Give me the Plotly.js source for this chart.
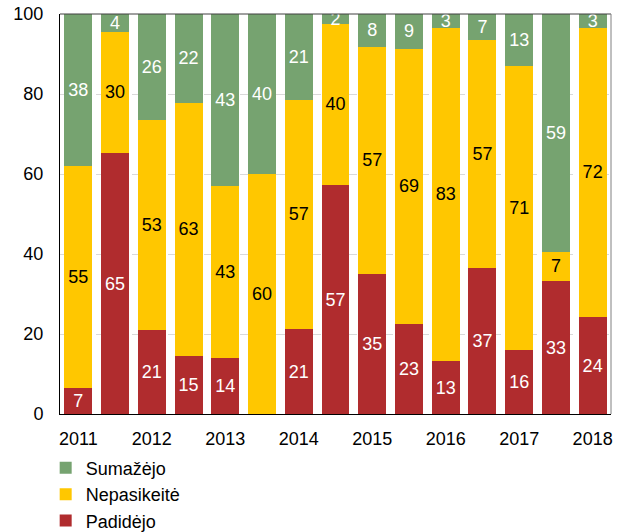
<!DOCTYPE html>
<html>
<head>
<meta charset="utf-8">
<script src="https://cdn.plot.ly/plotly-3.0.1.min.js"></script>
<style>html,body{margin:0;padding:0;background:#fff;}#chart{width:621px;height:532px;}</style>
</head>
<body>
<div id="chart"></div>
<script>
const positions = [0,1,2,3,4,5,6,7,8,9,10,11,12,13,14];
const tickPositions = [0,2,4,6,8,10,12,14];
const tickLabels = ['2011','2012','2013','2014','2015','2016','2017','2018'];
const padidejo    = [6.6, 65.2, 20.9, 14.6, 14.1, 0,    21.2, 57.2, 35.0, 22.6, 13.2, 36.6, 15.9, 33.2, 24.2];
const nepasikeite = [55.4, 30.4, 52.7, 63.2, 42.9, 59.9, 57.4, 40.4, 56.8, 68.7, 83.4, 56.8, 71.1, 7.4, 72.4];
const sumazejo    = [38.0, 4.4, 26.4, 22.3, 43.0, 40.1, 21.4, 2.4, 8.2, 8.7, 3.4, 6.6, 13.0, 59.4, 3.4];

const FONT = '"Liberation Sans", Arial, sans-serif';
const lbl = a => a.map(v => v > 0 ? v.toFixed(0) : '');

function tr(name, y, color, textColor){
  return {
    type:'bar', name:name, x:positions, y:y,
    marker:{color:color, line:{width:0}},
    text:lbl(y), textposition:'inside', insidetextanchor:'middle',
    textangle:0,
    insidetextfont:{family:FONT, size:18, color:textColor},
    hoverinfo:'skip'
  };
}

const data = [
  tr('Padidėjo', padidejo, '#B02C2E', '#ffffff'),
  tr('Nepasikeitė', nepasikeite, '#FFC700', '#000000'),
  tr('Sumažėjo', sumazejo, '#76A370', '#ffffff')
];

const layout = {
  width:621, height:532,
  margin:{l:60, r:10, t:14, b:118, autoexpand:false},
  barmode:'stack', bargap:0.24,
  paper_bgcolor:'#ffffff', plot_bgcolor:'#ffffff',
  font:{family:FONT, size:17, color:'#000'},
  uniformtext:{minsize:18, mode:'show'},
  xaxis:{
    range:[-0.5,14.5], tickmode:'array', tickvals:tickPositions, ticktext:tickLabels,
    showgrid:false, zeroline:false, showline:true, linecolor:'#000', linewidth:1,
    ticks:'', ticklen:0, ticklabelstandoff:8, tickfont:{family:FONT, size:18}, fixedrange:true, automargin:false
  },
  yaxis:{
    range:[0,100], tickvals:[0,20,40,60,80,100], showgrid:true, gridcolor:'#d9d9d9',
    griddash:'dash', gridwidth:1, zeroline:false, showline:true, linecolor:'#000',
    linewidth:1, ticks:'', ticklabelstandoff:12, tickfont:{family:FONT, size:18}, fixedrange:true, automargin:false
  },
  shapes:[
    {type:'line', xref:'paper', yref:'paper', x0:0, x1:1, y0:1, y1:1, line:{color:'#404040', width:1}},
    {type:'line', xref:'paper', yref:'paper', x0:1, x1:1, y0:0, y1:1, line:{color:'#808080', width:1}}
  ],
  showlegend:true,
  legend:{
    x:-0.026, xanchor:'left', yref:'container', y:0.155, yanchor:'top', orientation:'v',
    traceorder:'reversed', font:{family:FONT, size:18}, itemwidth:30,
    bgcolor:'rgba(0,0,0,0)', tracegroupgap:0
  }
};

Plotly.newPlot('chart', data, layout, {displayModeBar:false, staticPlot:true});
</script>
</body>
</html>
